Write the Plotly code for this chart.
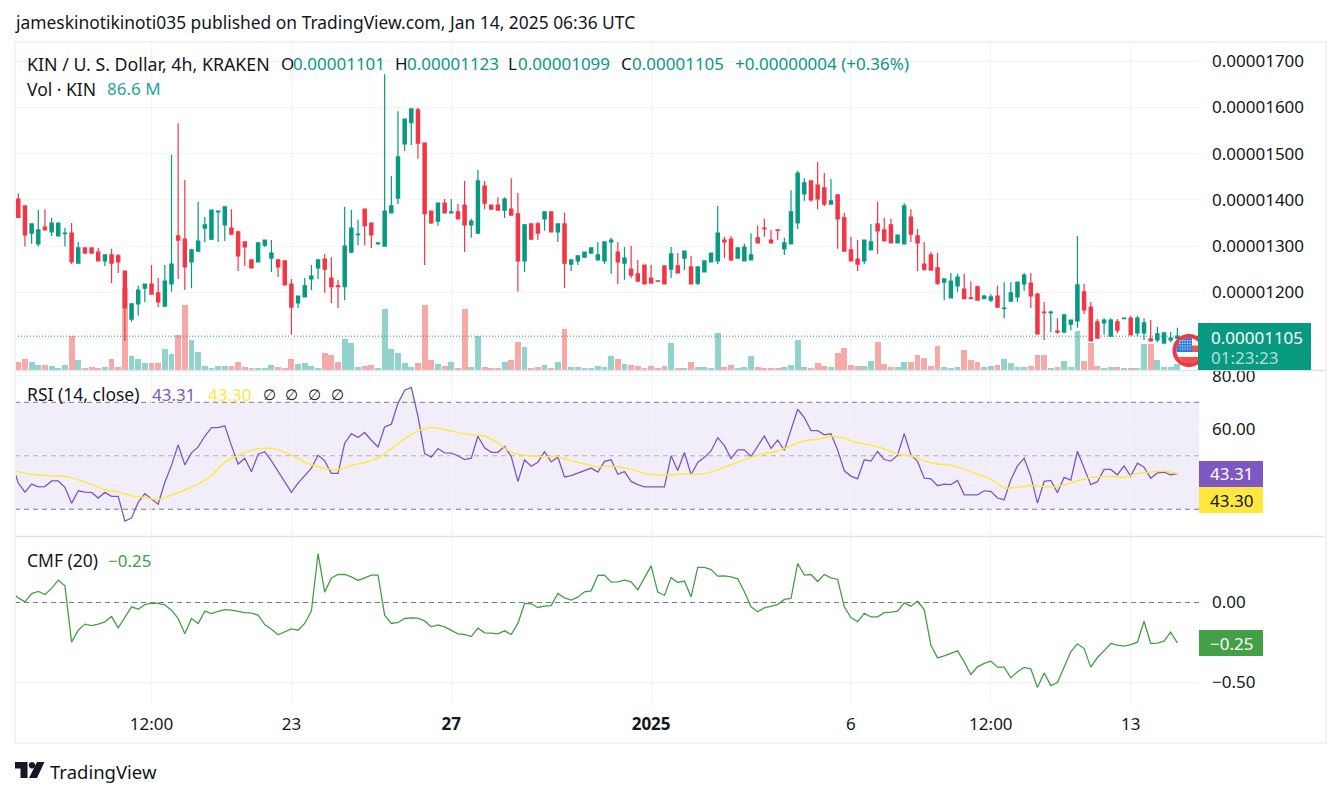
import numpy as np
import plotly.graph_objects as go

W, H = 1341, 797

# Prices in units of 1e-8 USD
opens = [1402,1387,1328,1305,1341,1331,1322,1327,1328,1263,
1296,1296,1287,1268,1281,1279,1246,1142,1175,1209,
1218,1199,1170,1218,1322,1315,1266,1289,1339,1315,
1374,1346,1339,1331,1309,1270,1266,1302,1274,1270,
1268,1218,1177,1190,1229,1253,1272,1231,1214,1212,
1287,1325,1380,1350,1305,1300,1372,1404,1521,1567,
1595,1523,1376,1354,1393,1372,1374,1389,1346,1328,
1430,1389,1389,1378,1380,1370,1268,1348,1348,1359,
1374,1331,1348,1261,1268,1276,1285,1270,1268,1309,
1287,1263,1250,1240,1259,1231,1225,1257,1250,1257,
1274,1255,1220,1244,1266,1268,1313,1315,1274,1268,
1270,1318,1339,1313,1335,1294,1305,1350,1413,1441,
1432,1426,1391,1411,1361,1292,1272,1268,1292,1348,
1335,1346,1307,1305,1363,1322,1261,1281,1253,1222,
1188,1214,1207,1188,1212,1186,1183,1192,1165,1181,
1190,1218,1220,1196,1157,1156,1116,1114,1131,1138,
1201,1168,1136,1134,1105,1136,1143,1144,1112,1112,
1099,1097,1090,1097,1101]
highs = [1414,1387,1349,1378,1380,1361,1350,1339,1350,1309,
1296,1296,1296,1281,1294,1283,1246,1175,1214,1218,
1259,1231,1259,1497,1566,1443,1294,1396,1363,1378,
1376,1385,1380,1333,1309,1270,1307,1313,1313,1272,
1268,1229,1192,1231,1259,1270,1283,1276,1227,1385,
1378,1357,1380,1350,1307,1672,1452,1592,1575,1597,
1599,1525,1376,1393,1402,1402,1391,1441,1359,1465,
1441,1389,1406,1406,1447,1415,1348,1348,1352,1374,
1374,1348,1372,1270,1279,1287,1296,1309,1309,1318,
1309,1298,1300,1270,1259,1259,1225,1257,1298,1285,
1289,1279,1255,1268,1285,1387,1320,1322,1296,1305,
1328,1344,1359,1335,1335,1318,1421,1463,1447,1441,
1482,1458,1445,1411,1372,1320,1313,1313,1348,1396,
1361,1359,1324,1393,1380,1337,1309,1287,1285,1229,
1242,1240,1240,1224,1214,1194,1196,1214,1222,1222,
1222,1242,1242,1199,1179,1160,1144,1151,1140,1322,
1218,1179,1142,1144,1144,1142,1144,1149,1149,1144,
1140,1125,1112,1114,1123]
lows = [1362,1299,1305,1299,1335,1322,1322,1299,1261,1263,
1285,1285,1268,1257,1220,1242,1095,1136,1149,1179,
1196,1168,1170,1201,1229,1205,1209,1289,1309,1313,
1309,1311,1324,1246,1257,1253,1266,1298,1244,1233,
1216,1108,1166,1190,1205,1229,1199,1177,1166,1183,
1285,1302,1302,1296,1305,1300,1372,1391,1506,1519,
1489,1259,1348,1344,1372,1372,1359,1287,1318,1328,
1380,1380,1378,1361,1367,1201,1244,1315,1313,1333,
1331,1309,1209,1246,1259,1276,1285,1270,1261,1240,
1218,1227,1231,1224,1218,1220,1224,1218,1231,1242,
1248,1218,1216,1244,1266,1261,1274,1268,1274,1268,
1270,1307,1320,1307,1313,1281,1305,1337,1398,1396,
1380,1387,1391,1294,1289,1268,1246,1261,1292,1283,
1311,1307,1307,1305,1309,1246,1246,1248,1216,1183,
1188,1201,1186,1186,1183,1186,1179,1166,1144,1181,
1179,1203,1166,1108,1097,1114,1110,1114,1118,1123,
1153,1095,1101,1108,1105,1112,1143,1108,1105,1097,
1095,1092,1090,1092,1099]
closes = [1362,1324,1348,1335,1335,1350,1350,1328,1266,1296,
1285,1285,1268,1281,1263,1266,1166,1175,1205,1218,
1196,1179,1224,1261,1313,1255,1292,1311,1346,1378,
1376,1385,1326,1279,1298,1253,1307,1313,1285,1255,
1216,1168,1192,1214,1235,1270,1250,1212,1212,1300,
1339,1326,1344,1324,1307,1376,1387,1493,1575,1597,
1523,1370,1350,1393,1372,1374,1359,1346,1354,1441,
1393,1380,1378,1402,1367,1268,1346,1315,1328,1374,
1331,1348,1263,1270,1279,1287,1296,1281,1309,1313,
1266,1274,1237,1224,1218,1220,1224,1218,1283,1242,
1289,1218,1255,1268,1285,1328,1309,1270,1296,1298,
1281,1307,1338,1307,1334,1307,1374,1458,1437,1400,
1402,1391,1398,1359,1289,1268,1261,1313,1309,1333,
1311,1307,1324,1387,1326,1307,1250,1248,1220,1229,
1224,1233,1186,1186,1183,1192,1190,1168,1166,1199,
1222,1237,1192,1110,1156,1157,1114,1151,1140,1216,
1162,1095,1101,1140,1140,1118,1144,1108,1144,1134,
1095,1110,1112,1101,1105]
volumes_m = [115,159,115,72,72,58,29,72,491,144,29,43,29,43,159,43,1183,202,159,101,101,101,303,231,505,938,433,260,58,29,58,58,58,115,43,29,29,29,72,43,29,159,87,101,
58,29,245,216,115,447,390,43,58,72,29,880,303,245,101,43,101,938,144,87,58,115,29,880,43,491,43,29,29,115,144,404,332,29,43,72,29,115,592,43,43,29,29,58,
43,202,159,87,72,58,29,58,29,58,390,29,29,115,43,43,29,534,43,72,29,43,202,43,29,29,29,43,72,433,43,29,101,58,43,245,317,72,58,58,130,404,87,
43,43,115,115,216,173,58,346,43,29,43,289,144,115,43,58,72,159,101,43,43,58,216,216,29,43,130,43,563,130,390,58,29,43,43,29,29,29,375,375,144,43,43,86.6]
# indicators start one bar before the first visible candle
rsi = [47.2,39.8,36.4,39.4,38.4,38.5,40.6,40.6,38.2,32.2,36.9,36.4,36.3,34.2,36.3,34.8,34.8,25.6,26.7,32.6,35.8,33.9,31.9,
40.1,46.4,54.1,46.6,51.1,53.3,57.3,60.5,60.5,61.2,53.8,46.9,49.1,44.0,50.6,51.5,48.1,44.1,40.1,36.3,39.8,42.6,45.4,50.2,48.1,43.4,43.4,
54.7,58.3,56.8,58.7,55.8,53.3,60.8,61.8,69.6,74.5,75.6,64.7,50.8,49.5,52.7,51.1,51.0,50.0,48.6,49.1,57.3,53.0,51.3,51.3,53.5,49.7,40.4,
48.4,46.1,47.6,51.5,47.7,49.5,42.1,42.6,43.5,44.5,45.4,43.9,47.9,48.5,43.1,44.1,40.4,39.2,38.4,38.4,38.4,38.4,50.0,44.5,51.2,42.9,47.5,
49.4,51.8,56.8,53.8,49.0,52.2,52.2,49.7,53.7,57.4,52.8,55.9,52.0,59.3,67.4,64.3,59.4,59.4,57.8,58.2,52.2,44.4,42.4,41.4,48.5,48.0,51.6,
48.6,48.0,50.2,58.3,50.3,47.9,41.6,41.4,38.8,39.4,39.2,40.8,35.4,35.4,35.4,36.9,36.7,34.2,33.6,41.0,46.2,49.1,42.3,32.3,40.4,40.8,36.2,
41.9,40.9,51.7,45.4,39.2,40.3,44.9,44.9,42.9,46.2,42.4,47.2,45.7,41.6,43.6,43.9,42.9,43.31]
rsi_ma_bars = [-1,2,5,7,9,11,13,15,17,19,21,23,25,27,29,31,33,35,37,39,41,43,45,47,48,50,52,54,56,58,60,62,65,67,70,72,74,76,79,81,83,85,87,
88,90,92,94,96,98,100,102,104,106,108,110,112,114,116,118,120,122,124,126,128,130,132,134,136,138,140,142,144,146,148,150,152,154,156,158,160,162,164,166,168,170,172,174]
rsi_ma = [44.5,43.1,42.5,42.3,41.0,39.3,37.3,36.5,35.0,34.4,33.6,35.3,37.2,39.4,42.6,47.6,50.1,52.0,52.8,52.3,50.2,47.6,45.9,44.9,44.8,46.4,47.5,49.1,52.6,56.3,59.3,60.5,59.3,58.2,57.4,54.7,51.3,50.2,49.7,49.7,48.1,47.0,45.7,
46.1,45.9,44.9,43.4,42.8,42.9,43.3,43.1,43.9,45.7,47.6,49.5,50.8,51.8,53.8,55.6,56.2,57.2,56.6,54.8,54.0,52.6,50.7,50.0,48.1,46.9,46.5,45.0,43.1,41.3,37.9,38.2,38.9,38.5,38.5,39.8,41.3,42.1,42.3,41.9,43.4,43.9,44.3,43.30]
cmf = [.067,.029,.004,.056,.069,.050,.088,.140,.104,-.248,-.173,-.135,-.144,-.135,-.121,-.088,-.158,-.094,-.027,-.042,-.013,-.004,-.006,-.015,-.048,-.100,-.196,-.100,-.131,-.054,-.069,-.056,-.044,-.048,-.056,-.063,-.067,-.079,-.138,-.167,-.202,-.183,-.165,-.173,-.131,-.054,.306,.065,.154,.175,.175,.160,.138,.154,.171,.171,-.079,-.131,-.125,-.100,-.096,-.098,-.115,-.152,-.140,-.152,-.173,-.196,-.200,-.213,-.160,-.190,-.192,-.196,-.177,-.200,-.131,-.006,-.008,-.031,-.023,-.019,.056,.029,.015,.033,.067,.073,.169,.171,
.127,.129,.140,.129,.079,.150,.229,.065,.044,.156,.125,.135,.035,.219,.219,.206,.165,.167,.160,.148,.067,-.027,-.058,-.033,-.021,-.013,.019,.025,.244,.171,.175,.131,.175,.154,.144,-.027,-.094,-.119,-.067,-.090,-.090,-.063,-.060,-.054,-.002,-.023,.008,-.044,-.267,-.346,-.333,-.319,-.302,-.371,-.450,-.402,-.381,-.367,-.404,-.404,-.471,-.433,-.406,-.415,-.531,-.440,-.519,-.500,-.408,-.308,-.258,-.288,-.404,-.344,-.302,-.256,-.267,-.273,-.263,-.248,-.117,-.256,-.254,-.242,-.185,-.252]

time_tick_bars = [20, 41, 65, 95, 125, 146, 167]
time_tick_labels = ["12:00", "23", "<b>27</b>", "<b>2025</b>", "6", "12:00", "13"]
price_ticks = [1100, 1200, 1300, 1400, 1500, 1600, 1700]
price_tick_labels = ["", "0.00001200", "0.00001300", "0.00001400", "0.00001500", "0.00001600", "0.00001700"]
rsi_ticks = [80, 60, 40]
rsi_tick_labels = ["80.00", "60.00", ""]
cmf_ticks = [0, -0.5]
last_close = 1105

assert len(opens) == len(highs) == len(lows) == len(closes) == len(volumes_m) == 175
assert len(rsi) == 176 and len(cmf) == 176
assert len(rsi_ma_bars) == len(rsi_ma)

SCALE = 1e-8
UP, DOWN = "#089981", "#F23645"
FONT = "Noto Sans"
INK = "#131722"
GRID = "#f2f3f6"
TS = 17
LS = 17.5

def px(x): return x / W
def py(y): return 1 - y / H

bars = np.arange(175)
o, h_, l, c = [np.array(a) * SCALE for a in (opens, highs, lows, closes)]
vol_colors = ["rgba(38,166,154,0.5)" if cl >= op else "rgba(239,83,80,0.5)" for op, cl in zip(opens, closes)]
ind_bars = np.arange(-1, 175)
rsi_arr = np.array(rsi)
over = (ind_bars >= 56) & (ind_bars <= 60)

fig = go.Figure()
fig.add_trace(go.Bar(x=bars, y=volumes_m, marker=dict(color=vol_colors, line_width=0), width=0.88,
                     xaxis="x", yaxis="y"))
fig.add_trace(go.Candlestick(x=bars, open=o, high=h_, low=l, close=c, xaxis="x", yaxis="y2", whiskerwidth=0,
                             increasing=dict(line=dict(color=UP, width=1.2), fillcolor=UP),
                             decreasing=dict(line=dict(color=DOWN, width=1.2), fillcolor=DOWN)))
fig.add_trace(go.Scatter(x=ind_bars[over], y=np.full(over.sum(), 70.0), mode="lines", line=dict(width=0),
                         xaxis="x2", yaxis="y3"))
fig.add_trace(go.Scatter(x=ind_bars[over], y=np.maximum(rsi_arr[over], 70.0), mode="lines", line=dict(width=0),
                         fill="tonexty", fillcolor="rgba(76,175,80,0.1)", xaxis="x2", yaxis="y3"))
fig.add_trace(go.Scatter(x=ind_bars, y=rsi, mode="lines", line=dict(color="#7E57C2", width=1.3), xaxis="x2", yaxis="y3"))
fig.add_trace(go.Scatter(x=rsi_ma_bars, y=rsi_ma, mode="lines", line=dict(color="#FDE83F", width=1.4, shape="spline", smoothing=0.5), xaxis="x2", yaxis="y3"))
fig.add_trace(go.Scatter(x=ind_bars, y=cmf, mode="lines", line=dict(color="#43A047", width=1.3), xaxis="x3", yaxis="y4"))

X0, X1 = -0.495, 177.25
xdom = [px(15), px(1199)]
common_x = dict(range=[X0, X1], domain=xdom, tickmode="array", tickvals=time_tick_bars, showgrid=True, automargin=False,
                gridcolor=GRID, gridwidth=1, zeroline=False, showline=False, ticks="", fixedrange=True)
common_y = dict(zeroline=False, showline=False, ticks="", gridcolor=GRID, gridwidth=1, side="right", automargin=False,
                tickfont=dict(family=FONT, size=TS, color=INK), ticklabelstandoff=12, fixedrange=True,
                tickmode="array")

P_TOP, P_BOT = 1741.8, 1031.8
fig.update_layout(
    template="none",
    width=W, height=H, margin=dict(l=0, r=0, t=0, b=0, pad=0), autosize=False,
    paper_bgcolor="white", plot_bgcolor="white", showlegend=False, boxgap=0.3, bargap=0,
    font=dict(family=FONT, color=INK),
    xaxis=dict(common_x, anchor="y", showticklabels=False, rangeslider=dict(visible=False)),
    xaxis2=dict(common_x, anchor="y3", showticklabels=False),
    xaxis3=dict(common_x, anchor="y4", showticklabels=True, ticktext=time_tick_labels,
                tickfont=dict(family=FONT, size=TS, color=INK), ticklabelstandoff=10),
    yaxis=dict(domain=[py(370), py(42)], range=[0, 4733], showgrid=False, showticklabels=False,
               zeroline=False, fixedrange=True, anchor="x", automargin=False),
    yaxis2=dict(common_y, overlaying="y", anchor="x", range=[P_BOT * SCALE, P_TOP * SCALE],
                tickvals=[t * SCALE for t in price_ticks], ticktext=price_tick_labels),
    yaxis3=dict(common_y, domain=[py(536), py(371)], anchor="x2", range=[20.0, 81.7],
                tickvals=rsi_ticks, ticktext=rsi_tick_labels),
    yaxis4=dict(common_y, domain=[py(702), py(537)], anchor="x3", range=[-0.6219, 0.4094],
                tickvals=cmf_ticks, tickformat=".2f"),
)

shapes = []
def prect(x0, y0, x1, y1, fill, line=None, lw=0, layer="above"):
    shapes.append(dict(type="rect", xref="paper", yref="paper", x0=px(x0), x1=px(x1), y0=py(y0), y1=py(y1),
                       fillcolor=fill, line=dict(color=line or fill, width=lw), layer=layer))
def ppoly(pts, fill, layer="above"):
    d = "M" + " L".join(f"{px(a):.5f},{py(b):.5f}" for a, b in pts) + " Z"
    shapes.append(dict(type="path", xref="paper", yref="paper", path=d, fillcolor=fill, line_width=0, layer=layer))

# RSI band and levels
shapes.append(dict(type="rect", xref="x2", yref="y3", x0=X0, x1=X1, y0=30, y1=70, layer="below",
                   fillcolor="rgba(126,87,194,0.1)", line_width=0))
for lvl, col in ((70, "#787B86"), (30, "#787B86"), (50, "rgba(120,123,134,0.55)")):
    shapes.append(dict(type="line", xref="x2", yref="y3", x0=X0, x1=X1, y0=lvl, y1=lvl, layer="below",
                       line=dict(color=col, width=1, dash="5px,4px")))
shapes.append(dict(type="line", xref="x3", yref="y4", x0=X0, x1=X1, y0=0, y1=0, layer="between",
                   line=dict(color="#787B86", width=1, dash="5px,4px")))
# Last price line
shapes.append(dict(type="line", xref="x", yref="y2", x0=X0, x1=X1, y0=last_close * SCALE, y1=last_close * SCALE,
                   layer="below", line=dict(color=UP, width=1, dash="1px,2px")))

# Frame and pane separators
for ysep in (370.5, 536.5):
    shapes.append(dict(type="line", xref="paper", yref="paper", x0=px(15), x1=px(1326), y0=py(ysep), y1=py(ysep),
                       layer="above", line=dict(color="#e0e3eb", width=1.5)))
shapes.append(dict(type="rect", xref="paper", yref="paper", x0=px(15), x1=px(1326), y0=py(743), y1=py(42),
                   fillcolor="rgba(0,0,0,0)", layer="above", line=dict(color="#f0f3fa", width=2)))

# Exchange flag badge
cx, cy, R, ri = 1189, 350.5, 16.5, 12.5
t = np.linspace(0, 2 * np.pi, 72)
circ = [(cx + ri * np.cos(a), cy + ri * np.sin(a)) for a in t]
ppoly([(cx + R * np.cos(a), cy + R * np.sin(a)) for a in t], "#F23645")
ppoly(circ, "#ffffff")
ppoly([(min(a, 1192), min(b, 352)) for a, b in circ], "#2F7BDE")
ppoly([(a, max(b, 357)) for a, b in circ], "#F0504E")
ppoly([(max(a, 1192), min(max(b, 345.5), 352)) for a, b in circ], "#F0504E")
for ix in range(5):
    for iy in range(4):
        prect(1179.5 + ix * 2.5, 340 + iy * 2.8, 1180.7 + ix * 2.5, 341.2 + iy * 2.8, "#dce9fb")

# Price tags
prect(1198, 323, 1311, 370, UP)
prect(1199, 461, 1263, 487, "#7E57C2")
prect(1199, 487, 1263, 513, "#FDE83F")
prect(1199, 630, 1263, 656, "#43A047")

# TradingView logo
ppoly([(15, 762), (27.5, 762), (27.5, 778), (20.5, 778), (20.5, 768.5), (15, 768.5)], INK)
ppoly([(32 + 3.2 * np.cos(a), 765.3 + 3.2 * np.sin(a)) for a in t], INK)
ppoly([(37, 762), (44.5, 762), (37, 778), (29, 778)], INK)

fig.update_layout(shapes=shapes)

ann = []
def text(x, y, s, color=INK, size=TS, anchor="left", family=FONT):
    ann.append(dict(xref="paper", yref="paper", x=px(x), y=py(y), text=s, showarrow=False, xanchor=anchor, yanchor="middle",
                    font=dict(family=family, size=size, color=color), align="left", borderpad=0, borderwidth=0))

text(15, 22, "jameskinotikinoti035 published on TradingView.com, Jan 14, 2025 06:36 UTC", size=17.4)
text(27, 64, "KIN / U. S. Dollar, 4h, KRAKEN", size=17.8)
for xl, lab, xv, val in ((281, "O", 293, "0.00001101"), (395, "H", 407, "0.00001123"),
                         (508, "L", 518, "0.00001099"), (621, "C", 632, "0.00001105")):
    text(xl, 64, lab)
    text(xv, 64, val, color=UP)
text(735, 64, "+0.00000004 (+0.36%)", color=UP)
text(27, 89, "Vol · KIN", size=LS)
text(107, 89, "86.6 M", color="#26A69A")
text(27, 394, "RSI (14, close)", size=LS)
text(152, 394, "43.31", color="#7E57C2")
text(208, 394, "43.30", color="#FDE83F")
for xs in (269, 291, 314, 337):
    text(xs, 394, "∅", size=15, anchor="center")
text(27, 560, "CMF (20)", size=LS)
text(108, 560, "−0.25", color="#43A047")
text(1211, 337, "0.00001105", color="#ffffff")
text(1211, 357, "01:23:23", color="rgba(255,255,255,0.7)")
text(1231, 473.5, "43.31", color="#ffffff", anchor="center")
text(1231, 500, "43.30", color=INK, anchor="center")
text(1231, 643, "−0.25", color="#ffffff", anchor="center")
text(50, 771, "TradingView", size=18.5)
fig.update_layout(annotations=ann)

fig.write_html("out.html", config=dict(displayModeBar=False, staticPlot=True),
               post_script="document.body.style.margin='0';document.documentElement.style.overflow='hidden';")
